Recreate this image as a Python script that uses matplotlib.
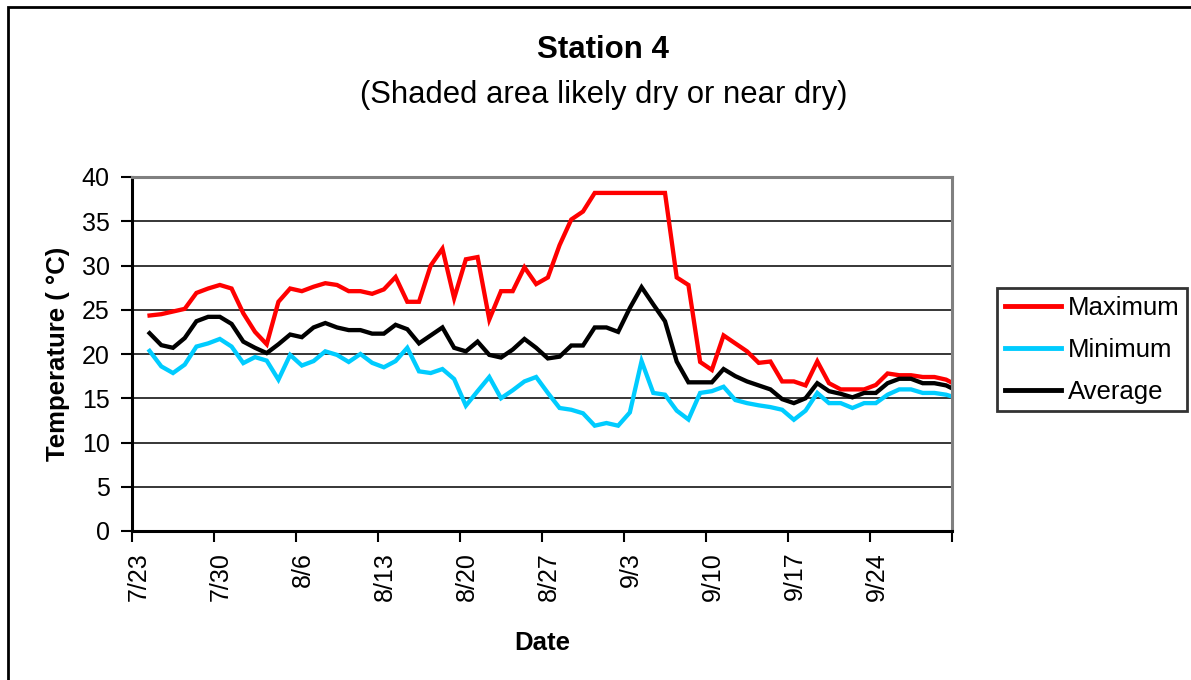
import matplotlib
matplotlib.use("Agg")
import matplotlib.pyplot as plt
import matplotlib.transforms as mtransforms
from matplotlib.patches import Rectangle
import pandas as pd

plt.rcParams['font.family'] = ['Liberation Sans', 'DejaVu Sans']

# ---- data ----
start_date = "2006-07-24"
n_days = 70
maximum = [24.35, 24.5, 24.8, 25.1, 26.9, 27.4, 27.8, 27.4, 24.6, 22.5,
           21.1, 25.9, 27.4, 27.1, 27.6, 28.0, 27.8, 27.1, 27.1, 26.8,
           27.3, 28.7, 25.9, 25.9, 30.0, 31.9, 26.3, 30.7, 30.95, 23.9,
           27.1, 27.1, 29.8, 27.9, 28.65, 32.3, 35.2, 36.1, 38.2, 38.2,
           38.2, 38.2, 38.2, 38.2, 38.2, 28.65, 27.8, 19.1, 18.2, 22.1,
           21.2, 20.3, 19.0, 19.15, 16.9, 16.9, 16.45, 19.17, 16.7, 16.0,
           16.0, 16.0, 16.5, 17.8, 17.6, 17.6, 17.4, 17.4, 17.1, 16.4]
minimum = [20.35, 18.6, 17.85, 18.8, 20.84, 21.2, 21.7, 20.84, 18.97, 19.65,
           19.25, 17.1, 19.9, 18.7, 19.2, 20.3, 19.9, 19.1, 20.0, 19.0,
           18.5, 19.2, 20.7, 18.04, 17.85, 18.3, 17.17, 14.16, 15.8, 17.4,
           15.0, 15.9, 16.9, 17.4, 15.6, 13.9, 13.7, 13.3, 11.9, 12.2,
           11.9, 13.4, 19.2, 15.6, 15.4, 13.6, 12.6, 15.6, 15.8, 16.3,
           14.8, 14.45, 14.2, 14.0, 13.7, 12.57, 13.6, 15.6, 14.45, 14.45,
           13.9, 14.45, 14.45, 15.4, 16.0, 16.0, 15.6, 15.6, 15.4, 15.0]
average = [22.35, 21.0, 20.7, 21.8, 23.7, 24.2, 24.2, 23.4, 21.4, 20.7,
           20.1, 21.1, 22.2, 21.9, 23.0, 23.5, 23.0, 22.7, 22.7, 22.3,
           22.3, 23.3, 22.8, 21.2, 22.1, 23.0, 20.7, 20.3, 21.4, 19.9,
           19.6, 20.5, 21.7, 20.7, 19.5, 19.7, 20.96, 20.96, 23.0, 23.0,
           22.5, 25.2, 27.55, 25.6, 23.7, 19.15, 16.8, 16.8, 16.8, 18.3,
           17.5, 16.9, 16.45, 16.0, 14.9, 14.45, 15.0, 16.7, 15.8, 15.5,
           15.1, 15.6, 15.6, 16.7, 17.2, 17.2, 16.7, 16.7, 16.45, 15.8]
tick_dates = ["2006-07-23", "2006-07-30", "2006-08-06", "2006-08-13", "2006-08-20",
              "2006-08-27", "2006-09-03", "2006-09-10", "2006-09-17", "2006-09-24",
              "2006-10-01"]
tick_labels = ["7/23", "7/30", "8/6", "8/13", "8/20", "8/27", "9/3", "9/10",
               "9/17", "9/24", ""]
series_names = ["Maximum", "Minimum", "Average"]
series_colors = ["#FF0000", "#00CCFF", "#000000"]

dates = pd.date_range(start_date, periods=n_days) + pd.Timedelta(hours=12)

W, H = 1191, 680
fig = plt.figure(figsize=(W / 100, H / 100), dpi=100)
ax = fig.add_axes([132 / W, 1 - 531 / H, (952 - 132) / W, (531 - 177) / H])

for vals, name, col in zip([maximum, minimum, average], series_names, series_colors):
    ax.plot(dates, vals, color=col, lw=3.1, label=name, solid_joinstyle='miter')

ax.set_xlim(pd.Timestamp(tick_dates[0]), pd.Timestamp(tick_dates[-1]))
ax.set_ylim(0, 40)
ax.set_yticks(range(0, 41, 5))
ax.set_xticks([pd.Timestamp(d) for d in tick_dates])
ax.set_xticklabels(tick_labels, rotation=90, fontsize=18, va='top', ha='center')
ax.tick_params(axis='y', labelsize=18, length=8, width=1.5, pad=8, direction='out')
ax.tick_params(axis='x', length=8, width=1.5, pad=7, direction='out')

offset = mtransforms.ScaledTranslation(7 / 100, 0, fig.dpi_scale_trans)
for lab in ax.get_xticklabels():
    lab.set_transform(lab.get_transform() + offset)

ax.yaxis.grid(True, color='black', lw=1.1)
ax.set_axisbelow(True)
for s in ['left', 'bottom']:
    ax.spines[s].set_color('black')
    ax.spines[s].set_linewidth(2.2)
for s in ['top', 'right']:
    ax.spines[s].set_color('#808080')
    ax.spines[s].set_linewidth(2.2)

ax.set_ylabel("Temperature ( °C)", fontsize=18.5, fontweight='bold', labelpad=0,
              va='center')
ax.yaxis.set_label_coords((58 - 132) / (952 - 132), 0.5)
fig.text(542 / W, 1 - 643 / H, "Date", fontsize=18.5, fontweight='bold',
         ha='center', va='center')

fig.text(603 / W, 1 - 50 / H, "Station 4", fontsize=22.5, fontweight='bold',
         ha='center', va='center')
fig.text(604 / W, 1 - 95 / H, "(Shaded area likely dry or near dry)", fontsize=22.3,
         ha='center', va='center')

leg = ax.legend(loc='upper left', bbox_to_anchor=(997 / W, 1 - 288 / H),
                bbox_transform=fig.transFigure, fontsize=18.5, frameon=True,
                fancybox=False, edgecolor='black', borderaxespad=0,
                handlelength=2.2, handletextpad=0.25, labelspacing=0.7,
                borderpad=0.3)
leg.get_frame().set_linewidth(2.0)
for line in leg.get_lines():
    line.set_linewidth(3.5)

fig.patches.append(Rectangle((8 / W, -0.1), 1.2, 1.1 - 7 / H, transform=fig.transFigure,
                             fill=False, edgecolor='black', lw=2.0))

fig.savefig("out.png", dpi=100)
